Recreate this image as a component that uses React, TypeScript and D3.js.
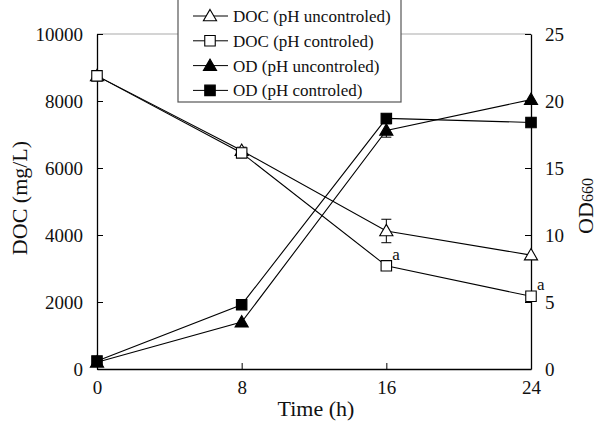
import React, {useEffect, useRef} from 'react';
import * as d3 from 'd3';

const times = [0, 8, 16, 24];
const docUnc = [8750, 6520, 4120, 3400];
const docUncErr = [0, 100, 350, 0];
const docCtl = [8750, 6450, 3080, 2170];
const odUnc = [0.5, 3.5, 17.8, 20.1];
const odUncErr = [0, 0, 0.5, 0];
const odCtl = [0.6, 4.8, 18.7, 18.4];
const xTicks = [0, 8, 16, 24];
const docTicks = [0, 2000, 4000, 6000, 8000, 10000];
const odTicks = [0, 5, 10, 15, 20, 25];
const legendLabels = ['DOC (pH uncontroled)', 'DOC (pH controled)', 'OD (pH uncontroled)', 'OD (pH controled)'];

function App() {
  const svgRef = useRef<SVGSVGElement>(null);
  useEffect(() => {
    const svg = d3.select(svgRef.current);
    svg.selectAll('*').remove();
    const font = "'Liberation Serif', 'Times New Roman', 'DejaVu Serif', serif";
    const left = 97, right = 531, top = 34, bottom = 369;
    const x = d3.scaleLinear().domain([0, 24]).range([left, right]);
    const yL = d3.scaleLinear().domain([0, 10000]).range([bottom, top]);
    const yR = d3.scaleLinear().domain([0, 25]).range([bottom, top]);

    // top frame (grey)
    svg.append('line').attr('x1', left).attr('x2', right).attr('y1', top).attr('y2', top)
      .attr('stroke', '#aaa').attr('stroke-width', 1.2);

    const gx = svg.append('g').attr('transform', `translate(0,${bottom})`)
      .call(d3.axisBottom(x).tickValues(xTicks).tickFormat(d3.format('d')).tickSizeInner(-6).tickSizeOuter(0).tickPadding(12));
    const gl = svg.append('g').attr('transform', `translate(${left},0)`)
      .call(d3.axisLeft(yL).tickValues(docTicks).tickFormat(d3.format('d')).tickSizeInner(-6).tickSizeOuter(0).tickPadding(14));
    const gr = svg.append('g').attr('transform', `translate(${right},0)`)
      .call(d3.axisRight(yR).tickValues(odTicks).tickFormat(d3.format('d')).tickSizeInner(-6).tickSizeOuter(0).tickPadding(14));
    [gx, gl, gr].forEach(g => {
      g.attr('font-family', null).attr('font-size', null);
      g.selectAll('path').attr('stroke', '#000').attr('stroke-width', 1.3);
      g.selectAll('line').attr('stroke', '#000');
      g.selectAll('text').style('font-family', font).style('font-size', '19px').attr('fill', '#111');
    });

    const lineL = d3.line<number>().x((d, i) => x(times[i])).y(d => yL(d));
    const lineR = d3.line<number>().x((d, i) => x(times[i])).y(d => yR(d));

    const series = [
      {vals: docUnc, err: docUncErr, y: yL, line: lineL, shape: 'tri', fill: '#fff'},
      {vals: docCtl, err: null, y: yL, line: lineL, shape: 'sq', fill: '#fff'},
      {vals: odUnc, err: odUncErr, y: yR, line: lineR, shape: 'tri', fill: '#000'},
      {vals: odCtl, err: null, y: yR, line: lineR, shape: 'sq', fill: '#000'},
    ];

    const tri = d3.symbol().type(d3.symbolTriangle).size(75);
    const sq = d3.symbol().type(d3.symbolSquare).size(110);

    series.forEach(s => {
      svg.append('path').attr('d', s.line(s.vals)).attr('fill', 'none').attr('stroke', '#000').attr('stroke-width', 1.1);
    });
    series.forEach(s => {
      if (s.err) {
        s.vals.forEach((v, i) => {
          const e = s.err![i];
          if (!e) return;
          const cx = x(times[i]);
          const g = svg.append('g').attr('stroke', '#000').attr('stroke-width', 1);
          g.append('line').attr('x1', cx).attr('x2', cx).attr('y1', s.y(v + e)).attr('y2', s.y(v - e));
          g.append('line').attr('x1', cx - 5).attr('x2', cx + 5).attr('y1', s.y(v + e)).attr('y2', s.y(v + e));
          g.append('line').attr('x1', cx - 5).attr('x2', cx + 5).attr('y1', s.y(v - e)).attr('y2', s.y(v - e));
        });
      }
      s.vals.forEach((v, i) => {
        svg.append('path')
          .attr('d', (s.shape === 'tri' ? tri : sq)())
          .attr('transform', `translate(${x(times[i])},${s.y(v) + (s.shape === 'tri' ? 1 : 0)})`)
          .attr('fill', s.fill).attr('stroke', '#000').attr('stroke-width', 1.1);
      });
    });

    // significance marks
    [2, 3].forEach(i => {
      svg.append('text').attr('x', x(times[i]) + 6).attr('y', yL(docCtl[i]) - 6)
        .style('font-family', font).style('font-size', '17px').attr('fill', '#111').text('a');
    });

    // legend
    const lg = svg.append('g');
    lg.append('rect').attr('x', 178).attr('y', -2).attr('width', 223).attr('height', 104)
      .attr('fill', '#fff').attr('stroke', '#555').attr('stroke-width', 1.2);
    legendLabels.forEach((lab, i) => {
      const ly = 16 + i * 24.8;
      const s = series[i];
      lg.append('line').attr('x1', 193).attr('x2', 228).attr('y1', ly).attr('y2', ly).attr('stroke', '#000');
      lg.append('path').attr('d', (s.shape === 'tri' ? tri : sq)())
        .attr('transform', `translate(210,${ly + (s.shape === 'tri' ? 1 : 0)})`)
        .attr('fill', s.fill).attr('stroke', '#000').attr('stroke-width', 1.1);
      lg.append('text').attr('x', 233).attr('y', ly + 6).style('font-family', font).style('font-size', '17px')
        .attr('fill', '#111').text(lab);
    });

    // axis titles
    svg.append('text').attr('x', 316).attr('y', 416).attr('text-anchor', 'middle')
      .style('font-family', font).style('font-size', '22px').attr('fill', '#111').text('Time (h)');
    svg.append('text').attr('transform', `translate(27,198) rotate(-90)`).attr('text-anchor', 'middle')
      .style('font-family', font).style('font-size', '22px').attr('fill', '#111').text('DOC (mg/L)');
    const od = svg.append('text').attr('transform', `translate(593,206) rotate(-90)`)
      .attr('text-anchor', 'middle').style('font-family', font).style('font-size', '22px').attr('fill', '#111');
    od.append('tspan').text('OD');
    od.append('tspan').style('font-size', '16px').text('660');
  }, []);
  return (
    <svg ref={svgRef} width={600} height={421} style={{position: 'absolute', left: 0, top: 0, background: '#fff'}} />
  );
}

export default App;
